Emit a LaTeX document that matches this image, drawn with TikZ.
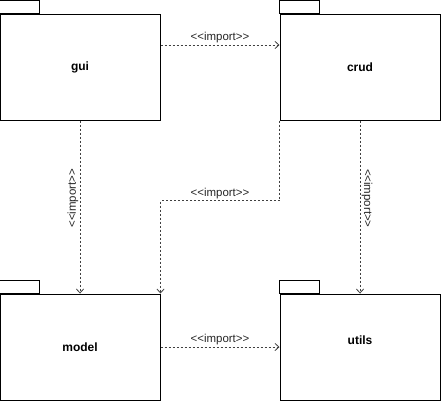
\documentclass[tikz,border=0pt]{standalone}
\usepackage{fontspec}
\setmainfont{Liberation Sans}[Ligatures=TeXOff]
\usepackage{tikz}
\usetikzlibrary{arrows.meta}

\begin{document}
\begin{tikzpicture}[x=0.75pt, y=-0.75pt,
 pkg/.style={draw, line width=0.75pt, minimum width=120pt, minimum height=79.5pt, inner sep=0pt, font=\fontsize{9}{11}\selectfont\bfseries},
 pkgname/.style={font=\fontsize{9}{11}\selectfont\bfseries},
 imp/.style={draw=black!75, line width=0.6pt, dash pattern=on 1.5pt off 1.5pt, -{Straight Barb[length=3pt, width=5.5pt, line width=0.6pt]}},
 implabel/.style={font=\fontsize{8.6}{10}\selectfont, inner sep=1pt, text=black!85}]
\useasboundingbox (0,0) rectangle (441,401);
% packages
\node[pkg] (gui) at (80,67) {gui};
\node[pkg] (crud) at (360,67) {crud};
\node[pkg] (model) at (80,347) {model};
\node[pkg, label={[pkgname, yshift=5.25pt]center:utils}] (utils) at (360,347) {};
\foreach \p in {gui, crud, model, utils}
 \draw[line width=0.75pt] (\p.north west) rectangle ++(40,-13);
% imports
\draw[imp] ([yshift=16.5pt]gui.east) -- ([yshift=16.5pt]crud.west) node[implabel, midway, above] {<<import>>};
\draw[imp] (gui.south) -- (model.north) node[implabel, pos=0.45, rotate=90, above] {<<import>>};
\draw[imp] (crud.south) -- (utils.north) node[implabel, pos=0.45, rotate=-90, above] {<<import>>};
\draw[imp] (crud.south west) -- ++(0,80) -| (model.north east) node[implabel, pos=0.25, above] {<<import>>};
\draw[imp] (model) -- (utils) node[implabel, midway, above] {<<import>>};
\end{tikzpicture}
\end{document}
